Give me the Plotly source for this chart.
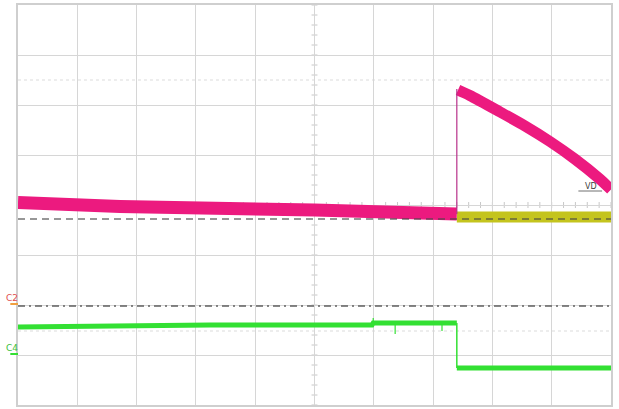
import plotly.graph_objects as go

# ---- data (screen divisions: x 0..10, y -4..4) ----
pink_pre_x = [0.0, 1.72, 5.0, 7.40]
pink_pre_y = [0.05, -0.03, -0.10, -0.18]
pink_post_x = [7.42, 7.62, 8.13, 8.55, 8.97, 9.39, 9.81, 10.0]
pink_post_y = [2.30, 2.19, 1.86, 1.58, 1.27, 0.92, 0.52, 0.31]
pink_edge_x = [7.40, 7.40]
pink_edge_y = [-0.18, 2.32]

yellow_x = [7.40, 10.0]
yellow_y = [-0.24, -0.24]

green_pre_x = [0.0, 3.24, 5.97, 5.99, 7.40]
green_pre_y = [-2.44, -2.40, -2.40, -2.36, -2.36]
green_post_x = [7.40, 10.0]
green_post_y = [-3.26, -3.26]
green_edge_x = [7.40, 7.40]
green_edge_y = [-2.36, -3.26]
spike_x = [5.99, 6.36, 7.15]
spike_lo = [-2.36, -2.58, -2.52]
spike_hi = [-2.26, -2.38, -2.36]

ref_dash_y = -0.28
ref_dashdot_y = -2.02
cursor_y = [2.5, -2.52]

PINK = "#ec1a7f"
YELLOW = "#c4c41e"
GREEN = "#33e033"

fig = go.Figure()

# yellow band
fig.add_trace(go.Scatter(x=yellow_x, y=yellow_y, mode="lines",
                         line=dict(color=YELLOW, width=11), hoverinfo="skip"))
# pink bands
fig.add_trace(go.Scatter(x=pink_pre_x, y=pink_pre_y, mode="lines",
                         line=dict(color=PINK, width=13), hoverinfo="skip"))
fig.add_trace(go.Scatter(x=pink_post_x, y=pink_post_y, mode="lines",
                         line=dict(color=PINK, width=11, shape="spline", smoothing=0.8),
                         hoverinfo="skip"))
fig.add_trace(go.Scatter(x=pink_edge_x, y=pink_edge_y, mode="lines",
                         line=dict(color="#b8308a", width=1.2), hoverinfo="skip"))

# green trace
fig.add_trace(go.Scatter(x=green_pre_x, y=green_pre_y, mode="lines",
                         line=dict(color=GREEN, width=5), hoverinfo="skip"))
fig.add_trace(go.Scatter(x=green_post_x, y=green_post_y, mode="lines",
                         line=dict(color=GREEN, width=5), hoverinfo="skip"))
fig.add_trace(go.Scatter(x=green_edge_x, y=green_edge_y, mode="lines",
                         line=dict(color=GREEN, width=1.5), hoverinfo="skip"))
sx, sy = [], []
for xv, lo, hi in zip(spike_x, spike_lo, spike_hi):
    sx += [xv, xv, None]
    sy += [lo, hi, None]
fig.add_trace(go.Scatter(x=sx, y=sy, mode="lines",
                         line=dict(color=GREEN, width=1.2), hoverinfo="skip"))

# reference lines
fig.add_trace(go.Scatter(x=[0, 10], y=[ref_dash_y, ref_dash_y], mode="lines",
                         line=dict(color="rgba(70,70,70,0.75)", width=1.5, dash="7px,5px"),
                         hoverinfo="skip"))
fig.add_trace(go.Scatter(x=[0, 10], y=[ref_dashdot_y, ref_dashdot_y], mode="lines",
                         line=dict(color="#606060", width=1.5, dash="7px,4px,2px,4px"),
                         hoverinfo="skip"))

# ground marker triangle at right edge
fig.add_trace(go.Scatter(x=[10.06], y=[-0.48], mode="markers", cliponaxis=False,
                         marker=dict(symbol="triangle-left", color=PINK, size=7),
                         hoverinfo="skip"))

shapes = []
# faint cursor lines
for cy in cursor_y:
    shapes.append(dict(type="line", xref="x", yref="y", x0=0, x1=10, y0=cy, y1=cy,
                       line=dict(color="#dcdcdc", width=1.2, dash="dot"), layer="below"))
# center-line minor ticks
for k in range(51):
    xv = k * 0.2
    shapes.append(dict(type="line", xref="x", yref="y", x0=xv, x1=xv, y0=-0.06, y1=0.06,
                       line=dict(color="#c8c8c8", width=1), layer="below"))
for k in range(41):
    yv = -4 + k * 0.2
    shapes.append(dict(type="line", xref="x", yref="y", x0=4.95, x1=5.05, y0=yv, y1=yv,
                       line=dict(color="#c8c8c8", width=1), layer="below"))
# channel markers on left
shapes.append(dict(type="line", xref="paper", yref="y", x0=-0.013, x1=0.0, y0=-1.98, y1=-1.98,
                   line=dict(color="#f0a040", width=2)))
shapes.append(dict(type="line", xref="paper", yref="y", x0=-0.013, x1=0.0, y0=-2.98, y1=-2.98,
                   line=dict(color=GREEN, width=2)))
# underline of VD label
shapes.append(dict(type="line", xref="x", yref="y", x0=9.45, x1=9.85, y0=0.28, y1=0.28,
                   line=dict(color="#707070", width=1)))

annotations = [
    dict(x=-0.01, y=-1.86, xref="paper", yref="y", text="C2", showarrow=False,
         font=dict(family="DejaVu Sans", size=9, color="#e05050"), xanchor="center"),
    dict(x=-0.01, y=-2.86, xref="paper", yref="y", text="C4", showarrow=False,
         font=dict(family="DejaVu Sans", size=9, color="#40c040"), xanchor="center"),
    dict(x=9.66, y=0.38, xref="x", yref="y", text="VD", showarrow=False,
         font=dict(family="DejaVu Sans", size=8, color="#404040")),
]

fig.update_layout(
    width=619, height=409,
    margin=dict(l=18, r=8, t=5, b=4),
    paper_bgcolor="white", plot_bgcolor="white",
    showlegend=False,
    shapes=shapes, annotations=annotations,
    xaxis=dict(range=[0, 10], tick0=0, dtick=1, showticklabels=False, ticks="",
               showgrid=True, gridcolor="#d6d6d6", gridwidth=1.2, zeroline=False,
               showline=True, linecolor="#cfcfcf", linewidth=2, mirror=True, fixedrange=True),
    yaxis=dict(range=[-4, 4], tick0=0, dtick=1, showticklabels=False, ticks="",
               showgrid=True, gridcolor="#d6d6d6", gridwidth=1.2, zeroline=False,
               showline=True, linecolor="#cfcfcf", linewidth=2, mirror=True, fixedrange=True),
)

fig.write_html("out.html", config={"displayModeBar": False},
               post_script="document.body.style.margin='0';document.body.style.overflow='hidden';")
